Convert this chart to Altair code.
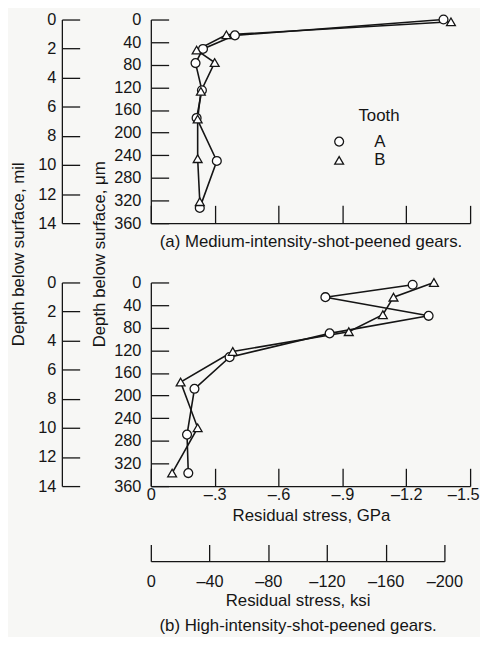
import altair as alt
import pandas as pd

# ---------------- data ----------------
# (a) Medium-intensity-shot-peened gears: depth (um), residual stress (GPa)
a_depth_A = [0, 28, 52, 77, 125, 174, 250, 333]
a_stress_A = [-1.375, -0.395, -0.245, -0.21, -0.24, -0.215, -0.31, -0.23]
a_depth_B = [4, 27, 54, 76, 127, 176, 246, 322]
a_stress_B = [-1.41, -0.355, -0.215, -0.30, -0.235, -0.22, -0.22, -0.23]

# (b) High-intensity-shot-peened gears
b_depth_A = [4, 26, 59, 90, 132, 188, 269, 337]
b_stress_A = [-1.23, -0.82, -1.305, -0.84, -0.37, -0.205, -0.17, -0.176]
b_depth_B = [0, 26, 57, 87, 122, 176, 257, 337]
b_stress_B = [-1.33, -1.14, -1.09, -0.93, -0.385, -0.14, -0.22, -0.10]

teeth = ["A", "B"]
tooth_shapes = ["circle", "triangle-up"]

gpa_ticks = [0, -0.3, -0.6, -0.9, -1.2, -1.5]
gpa_labels = ["0", "\u2013.3", "\u2013.6", "\u2013.9", "\u20131.2", "\u20131.5"]
ksi_ticks = [0, -40, -80, -120, -160, -200]
ksi_labels = ["0", "\u201340", "\u201380", "\u2013120", "\u2013160", "\u2013200"]
um_ticks = [0, 40, 80, 120, 160, 200, 240, 280, 320, 360]
mil_ticks = [0, 2, 4, 6, 8, 10, 12, 14]

# ---------------- helpers ----------------
W, H = 323, 206
FONT = "Liberation Sans"
LBL = 16.5
TTL = 17
INK = "#151515"
KSI_PER_GPA = 145.038


def frame(dA, sA, dB, sB):
    rows = []
    for t, ds, ss in (("A", dA, sA), ("B", dB, sB)):
        for i, (d, s) in enumerate(zip(ds, ss)):
            rows.append({"Tooth": t, "depth": d, "stress": s, "i": i})
    return pd.DataFrame(rows)


def label_expr(values, labels):
    vals = ",".join(repr(float(v)) for v in values)
    labs = ",".join("'" + l + "'" for l in labels)
    return f"[{labs}][indexof([{vals}], datum.value)]"


x_scale = alt.Scale(domain=[gpa_ticks[0], gpa_ticks[-1]], nice=False, zero=False)
y_scale = alt.Scale(domain=[um_ticks[0], um_ticks[-1]], reverse=True, nice=False)
mil_scale = alt.Scale(domain=[mil_ticks[0], mil_ticks[-1]], reverse=True, nice=False)
ksi_end = W * (-ksi_ticks[-1] / KSI_PER_GPA) / (-gpa_ticks[-1])
ksi_scale = alt.Scale(domain=[ksi_ticks[0], ksi_ticks[-1]], range=[0, ksi_end],
                      nice=False, zero=False)

YT_Y = 237  # centre of the shared y titles, relative to the top panel


def um_axis(with_title):
    kw = dict(orient="right", offset=-W, values=um_ticks, tickSize=18, labelPadding=-28,
              labelAlign="right", labelBaseline="middle", grid=False, labelFontSize=LBL,
              format="d")
    if with_title:
        kw.update(title="Depth below surface, \u03bcm", titleAngle=270, titleX=-52, titleY=YT_Y,
                  titleAlign="center", titleBaseline="middle", titleFontSize=TTL,
                  titleFontWeight="normal")
    else:
        kw.update(title=None)
    return alt.Axis(**kw)


def mil_axis(with_title):
    kw = dict(orient="right", offset=-W - 90, values=mil_ticks, tickSize=18, labelPadding=-24,
              labelAlign="right", labelBaseline="middle", grid=False, labelFontSize=LBL,
              format="d")
    if with_title:
        kw.update(title="Depth below surface, mil", titleAngle=270, titleX=-44, titleY=YT_Y,
                  titleAlign="center", titleBaseline="middle", titleFontSize=TTL,
                  titleFontWeight="normal")
    else:
        kw.update(title=None)
    return alt.Axis(**kw)


top_x_axis = alt.Axis(orient="top", offset=-H, values=gpa_ticks, tickSize=18, labels=False,
                      grid=False, title="(a) Medium-intensity-shot-peened gears.",
                      titleX=W / 2, titleY=19, titleAlign="center", titleBaseline="middle",
                      titleFontSize=TTL, titleFontWeight="normal")

bot_x_axis = alt.Axis(orient="top", offset=-H, values=gpa_ticks, tickSize=18,
                      labelPadding=-27, labelBaseline="middle", labelAlign="center",
                      labelOffset={"condition": {"test": "datum.value < -1.4", "value": -7},
                                   "value": 0},
                      labelExpr=label_expr(gpa_ticks, gpa_labels), labelFontSize=LBL,
                      grid=False, title="Residual stress, GPa",
                      titleX=162, titleY=30, titleAlign="center", titleBaseline="middle",
                      titleFontSize=TTL, titleFontWeight="normal")

ksi_axis = alt.Axis(orient="top", offset=-282, values=ksi_ticks, tickSize=17,
                    labelPadding=-38, labelBaseline="middle", labelAlign="center",
                    labelExpr=label_expr(ksi_ticks, ksi_labels), labelFontSize=LBL,
                    grid=False,
                    title=["Residual stress, ksi", "(b) High-intensity-shot-peened gears."],
                    titleX=ksi_end / 2, titleY=32, titleAlign="center", titleBaseline="top",
                    titleLineHeight=25, titleFontSize=TTL, titleFontWeight="normal")

shape_scale = alt.Scale(domain=teeth, range=tooth_shapes)
stroke_scale = alt.Scale(domain=teeth, range=[INK, INK])

legend = alt.Legend(orient="none", legendX=210, legendY=90, title="Tooth", titleFontSize=TTL,
                    titleFontWeight="normal", labelFontSize=TTL,
                    symbolSize=80, symbolStrokeWidth=1.3, symbolOffset=-28, labelOffset=27,
                    titlePadding=8, rowPadding=1, symbolFillColor="white",
                    symbolStrokeColor=INK)


def panel(df, xaxis, top):
    base = alt.Chart(df)
    x = alt.X("stress:Q", scale=x_scale, axis=xaxis)
    y = alt.Y("depth:Q", scale=y_scale, axis=um_axis(top))
    line = base.mark_line(color=INK, strokeWidth=1.6).encode(
        x=x, y=y, detail="Tooth:N", order="i:Q")
    pts = base.mark_point(filled=False, fill="white", fillOpacity=1,
                          strokeWidth=1.3, size=80, opacity=1).encode(
        x=x, y=y,
        shape=alt.Shape("Tooth:N", scale=shape_scale, legend=legend if top else None),
        stroke=alt.Stroke("Tooth:N", scale=stroke_scale, legend=legend if top else None))
    data_layer = alt.layer(line, pts)
    mil_layer = alt.Chart(pd.DataFrame({"mil": mil_ticks})).mark_point(opacity=0).encode(
        y=alt.Y("mil:Q", scale=mil_scale, axis=mil_axis(top)))
    layers = [data_layer, mil_layer]
    if not top:
        ksi_layer = alt.Chart(pd.DataFrame({"ksi": ksi_ticks})).mark_point(opacity=0).encode(
            x=alt.X("ksi:Q", scale=ksi_scale, axis=ksi_axis))
        layers.append(ksi_layer)
    return alt.layer(*layers).resolve_scale(x="independent", y="independent").properties(
        width=W, height=H)


top_panel = panel(frame(a_depth_A, a_stress_A, a_depth_B, a_stress_B), top_x_axis, True)
bot_panel = panel(frame(b_depth_A, b_stress_A, b_depth_B, b_stress_B), bot_x_axis, False)

chart = alt.vconcat(top_panel, bot_panel, spacing=60, bounds="flush").resolve_scale(
    shape="independent", stroke="independent").resolve_legend(
    shape="independent", stroke="independent").properties(
    background="#f7f7f5", padding={"left": 1.5, "top": 0, "right": 0, "bottom": 0}
).configure(font=FONT).configure_axis(
    labelFont=FONT, titleFont=FONT, labelColor=INK, titleColor=INK,
    domainColor=INK, tickColor=INK, domainWidth=1.3, tickWidth=1.3
).configure_legend(labelFont=FONT, titleFont=FONT, labelColor=INK, titleColor=INK
).configure_view(stroke=None)

chart.save("out.html", embed_options={"renderer": "svg", "actions": False})
